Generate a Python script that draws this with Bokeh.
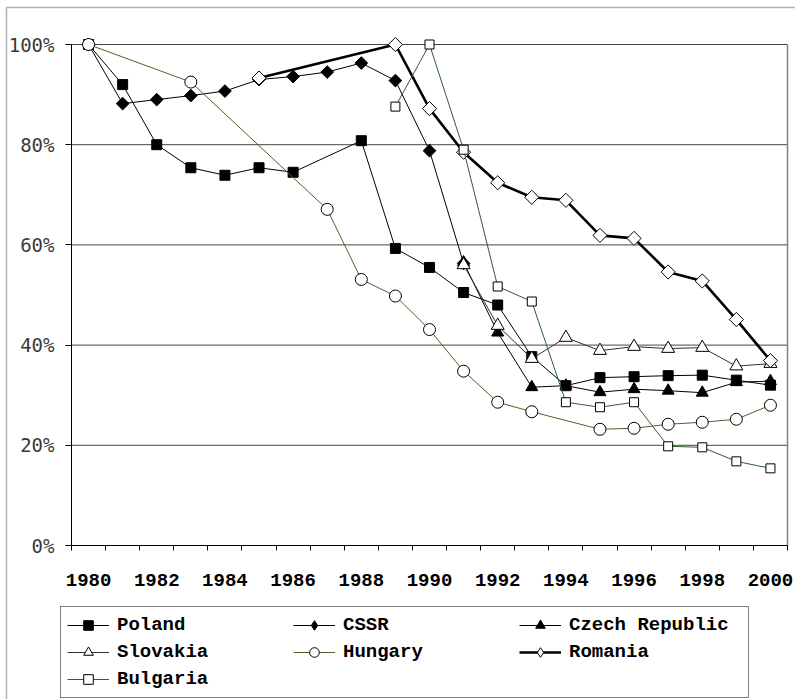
import numpy as np
from bokeh.plotting import figure
from bokeh.models import (FixedTicker, NumeralTickFormatter, Legend, LegendItem,
                          Range1d, BoxAnnotation)
from bokeh.embed import file_html
from bokeh.resources import INLINE

# ---------------- data (percent of reference level) ----------------
year_labels = [1980, 1982, 1984, 1986, 1988, 1990, 1992, 1994, 1996, 1998, 2000]
y_ticks = [0, 20, 40, 60, 80, 100]

poland_years = [1980, 1981, 1982, 1983, 1984, 1985, 1986, 1988, 1989, 1990,
                1991, 1992, 1993, 1994, 1995, 1996, 1997, 1998, 1999, 2000]
poland = [100, 92.0, 80.0, 75.4, 73.9, 75.4, 74.5, 80.8, 59.3, 55.5,
          50.5, 48.0, 37.7, 31.9, 33.5, 33.7, 33.9, 34.0, 33.0, 32.0]

cssr_years = [1980, 1981, 1982, 1983, 1984, 1985, 1986, 1987, 1988, 1989, 1990, 1991]
cssr = [100, 88.2, 89.0, 89.8, 90.7, 93.0, 93.6, 94.5, 96.3, 92.8, 78.8, 56.3]

czech_years = [1991, 1992, 1993, 1994, 1995, 1996, 1997, 1998, 1999, 2000]
czech = [56.5, 42.5, 31.6, 31.9, 30.6, 31.2, 30.9, 30.5, 32.6, 32.8]

slovakia_years = [1991, 1992, 1993, 1994, 1995, 1996, 1997, 1998, 1999, 2000]
slovakia = [56.0, 43.9, 37.3, 41.5, 38.9, 39.7, 39.3, 39.5, 35.8, 36.3]

hungary_years = [1980, 1983, 1987, 1988, 1989, 1990, 1991, 1992, 1993,
                 1995, 1996, 1997, 1998, 1999, 2000]
hungary = [100, 92.5, 67.1, 53.1, 49.8, 43.1, 34.8, 28.6, 26.7,
           23.2, 23.4, 24.2, 24.6, 25.2, 28.0]

romania_years = [1985, 1989, 1990, 1991, 1992, 1993, 1994, 1995, 1996,
                 1997, 1998, 1999, 2000]
romania = [93.3, 100, 87.2, 78.5, 72.4, 69.5, 68.9, 61.9, 61.3,
           54.6, 52.8, 45.1, 36.9]

bulgaria_years = [1989, 1990, 1991, 1992, 1993, 1994, 1995, 1996, 1997, 1998, 1999, 2000]
bulgaria = [87.6, 100, 79.0, 51.7, 48.7, 28.6, 27.6, 28.6, 19.8, 19.6, 16.8, 15.4]

# ---------------- layout (pixels) ----------------
W, H = 795, 699
PLOT_L, PLOT_R, PLOT_T, PLOT_B = 71, 787, 44, 545      # plot area in the canvas
X_START, X_END = 1979.5, 2000.5
px_per_year = (PLOT_R - PLOT_L) / (X_END - X_START)
px_per_unit = (PLOT_B - PLOT_T) / 1.0
x_lo = X_START - PLOT_L / px_per_year
x_hi = X_END + (W - PLOT_R) / px_per_year
y_lo = -(H - PLOT_B) / px_per_unit
y_hi = 1.0 + PLOT_T / px_per_unit

p = figure(width=W, height=H, output_backend="svg", toolbar_location=None,
           x_range=Range1d(x_lo, x_hi), y_range=Range1d(y_lo, y_hi),
           min_border=0)
p.outline_line_color = None
p.background_fill_color = "white"
p.border_fill_color = "white"
p.xgrid.visible = False
p.ygrid.visible = False

# outer chart frame (only top and left edges fall inside the page)
p.add_layout(BoxAnnotation(left=6, right=W + 20, top=7, bottom=H + 20,
                           left_units="canvas", right_units="canvas",
                           top_units="canvas", bottom_units="canvas",
                           fill_alpha=0, line_color="black", line_width=1.5,
                           level="underlay"))

# horizontal grid lines and the right border of the plot area
grid_y = [t / 100 for t in y_ticks]
p.segment(x0=[X_START] * len(grid_y), x1=[X_END] * len(grid_y), y0=grid_y, y1=grid_y,
          line_color="#454545", line_width=1)
p.segment(x0=[X_END], y0=[0], x1=[X_END], y1=[grid_y[-1]],
          line_color="#808080", line_width=1.5)

# x axis fixed at 0
p.xaxis.fixed_location = 0
p.xaxis.bounds = (X_START, X_END)
p.xaxis.ticker = FixedTicker(ticks=year_labels,
                             minor_ticks=[y - 0.5 for y in range(1980, 2002)])
p.xaxis.major_tick_out = 0
p.xaxis.major_tick_in = 0
p.xaxis.minor_tick_out = 5
p.xaxis.minor_tick_in = 0
p.xaxis.minor_tick_line_color = "black"
p.xaxis.axis_line_color = "black"
p.xaxis.major_label_standoff = 23
p.xaxis.major_label_text_font = "Liberation Mono"
p.xaxis.major_label_text_font_style = "bold"
p.xaxis.major_label_text_font_size = "19px"
p.xaxis.major_label_text_color = "black"

# y axis fixed at the left edge of the plot area
p.yaxis.fixed_location = X_START
p.yaxis.bounds = (0, grid_y[-1])
p.yaxis.ticker = FixedTicker(ticks=grid_y)
p.yaxis.formatter = NumeralTickFormatter(format="0%")
p.yaxis.major_tick_out = 6
p.yaxis.major_tick_in = 0
p.yaxis.minor_tick_line_color = None
p.yaxis.axis_line_color = "black"
p.yaxis.major_label_standoff = 11
p.yaxis.major_label_text_font = "DejaVu Sans Mono"
p.yaxis.major_label_text_font_size = "19px"
p.yaxis.major_label_text_color = "#3a3a3a"

# name, years, values, line colour, line width, marker, size, fill, rotated
series = [
    ("Poland", poland_years, poland, "black", 1, "square", 10, "black", False),
    ("CSSR", cssr_years, cssr, "black", 1, "square", 9, "black", True),
    ("Czech Republic", czech_years, czech, "black", 1, "triangle", 12, "black", False),
    ("Slovakia", slovakia_years, slovakia, "#303030", 1, "triangle", 13, "white", False),
    ("Hungary", hungary_years, hungary, "#5c5c28", 1, "circle", 12, "white", False),
    ("Romania", romania_years, romania, "black", 2.6, "square", 10, "white", True),
    ("Bulgaria", bulgaria_years, bulgaria, "#2f5f2f", 1, "square", 9, "white", False),
]

items = []
for name, yrs, vals, lc, lw, marker, size, fill, rot in series:
    ys = [v / 100 for v in vals]
    lr = p.line(yrs, ys, line_color=lc, line_width=lw)
    renderers = [lr]
    if rot:
        # tiny diamond hidden under the rotated squares; the legend draws it
        # unrotated at its own size, so it stands in for the diamond symbol
        proxy = p.scatter(yrs, ys, marker="diamond", size=1, fill_color=fill,
                          line_color="black", line_width=1)
        renderers.append(proxy)
    sr = p.scatter(yrs, ys, marker=marker, size=size, fill_color=fill,
                   line_color="black", line_width=1, angle=np.pi / 4 if rot else 0)
    if not rot:
        renderers.append(sr)
    items.append(LegendItem(label=name, renderers=renderers))

legend = Legend(items=items, location=(60, 1), orientation="horizontal", ncols=3,
                label_text_font="Liberation Mono", label_text_font_style="bold",
                label_text_font_size="19px", label_text_color="black",
                border_line_color="black", border_line_width=1,
                background_fill_color="white", background_fill_alpha=1,
                padding=6, spacing=3, margin=0,
                glyph_width=42, glyph_height=24, label_height=24,
                label_standoff=8, label_width=173)
p.add_layout(legend, "center")

open("out.html", "w").write(file_html(p, INLINE))
